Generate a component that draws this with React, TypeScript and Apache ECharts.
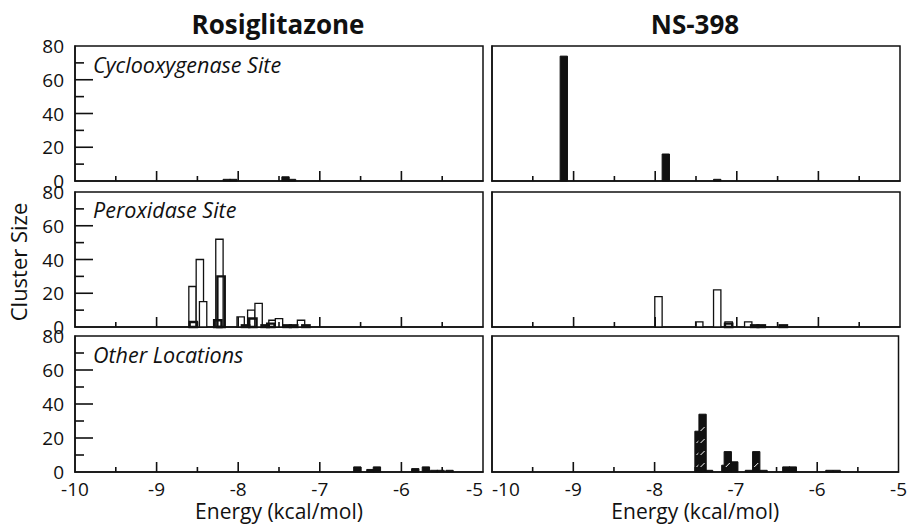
import React, { useEffect, useRef } from "react";
import * as echarts from "echarts";

// ---- data (energy kcal/mol, cluster size) ----
const xTicks = [-10, -9, -8, -7, -6, -5];
const xMinorTicks = [-9.5, -8.5, -7.5, -6.5, -5.5];
const yTicks = [0, 20, 40, 60, 80];
const yMinorTicks = [10, 30, 50, 70];
const drugs = ["Rosiglitazone", "NS-398"];
const sites = ["Cyclooxygenase Site", "Peroxidase Site", "Other Locations"];

const rosiCoxBlack = [[-8.14, 1], [-8.06, 1], [-7.42, 2.5], [-7.34, 1]];
const nsCoxBlack = [[-9.12, 74], [-7.87, 16], [-7.24, 1]];

const rosiPerWhite = [
  [-8.56, 24], [-8.47, 40], [-8.43, 15], [-8.23, 52], [-7.97, 6],
  [-7.84, 10], [-7.75, 14], [-7.58, 4], [-7.5, 5], [-7.23, 4],
];
const rosiPerBold = [
  [-8.55, 3], [-8.25, 4], [-8.21, 30], [-7.91, 1], [-7.82, 5],
  [-7.67, 1], [-7.6, 2], [-7.4, 1], [-7.32, 1], [-7.17, 1],
];
const nsPerWhite = [[-7.96, 18], [-7.46, 3], [-7.24, 22], [-7.1, 3], [-6.86, 3]];
const nsPerBold = [[-7.1, 2], [-6.78, 1], [-6.7, 1], [-6.43, 1]];

const rosiOtherHatched = [
  [-6.54, 3], [-6.38, 1.5], [-6.3, 3], [-5.83, 2], [-5.7, 3],
  [-5.6, 1], [-5.52, 1], [-5.41, 1],
];
const nsOtherHatched = [
  [-7.46, 24], [-7.41, 34], [-7.33, 1], [-7.13, 4], [-7.1, 12], [-7.02, 6],
  [-6.84, 1], [-6.75, 12], [-6.66, 1], [-6.38, 3], [-6.3, 3], [-5.85, 1], [-5.76, 1],
];

const BIN = 0.09;
const FONT = "'Open Sans', 'Noto Sans', sans-serif";
const INK = "#111";

type Kind = "white" | "black" | "bold" | "hatch";

function makeRender(kind: Kind) {
  return (params: any, api: any) => {
    const x = api.value(0);
    const h = api.value(1);
    const p0 = api.coord([x - BIN / 2, 0]);
    const p1 = api.coord([x + BIN / 2, h]);
    const rx = p0[0];
    const ry = p1[1];
    const rw = p1[0] - p0[0];
    const rh = p0[1] - p1[1];
    let style: any;
    if (kind === "white") style = { fill: "#fff", stroke: INK, lineWidth: 1.3 };
    else if (kind === "bold") style = { fill: "rgba(255,255,255,0)", stroke: INK, lineWidth: 2.4 };
    else style = { fill: INK, stroke: INK, lineWidth: 1 };
    const children: any[] = [
      { type: "rect", shape: { x: rx, y: ry, width: rw, height: rh }, style },
    ];
    if (kind === "hatch") {
      const cx = rx + rw / 2;
      for (let yy = p0[1] - 7; yy > ry + 4; yy -= 12) {
        children.push({
          type: "line",
          shape: { x1: cx - 2, y1: yy + 2, x2: cx + 2, y2: yy - 2 },
          style: { stroke: "#fff", lineWidth: 1 },
        });
      }
    }
    return { type: "group", children };
  };
}

// inward tick marks, placed through the axes' scales
function tickRender(dir: "x" | "y", len: number) {
  return (params: any, api: any) => {
    const p = api.coord([api.value(0), api.value(1)]);
    const w = 1.6;
    const shape =
      dir === "x"
        ? { x: p[0] - w / 2, y: p[1] - len, width: w, height: len }
        : { x: p[0], y: p[1] - w / 2, width: len, height: w };
    return { type: "rect", shape, style: { fill: INK }, z2: 50 };
  };
}

const GRID_LEFT = [75, 492];
const GRID_W = 408;
const GRID_TOP = [46, 192, 336];
const GRID_H = [135, 135, 136];

export default function App() {
  const ref = useRef<HTMLDivElement>(null);
  useEffect(() => {
    if (!ref.current) return;
    const chart = echarts.init(ref.current, null, { renderer: "svg" });
    const grids: any[] = [];
    const xAxes: any[] = [];
    const yAxes: any[] = [];
    const series: any[] = [];
    const lineStyle = { color: INK, width: 1.5 };
    const xMin = xTicks[0];
    const yMin = yTicks[0];
    for (let r = 0; r < 3; r++) {
      for (let c = 0; c < 2; c++) {
        const idx = r * 2 + c;
        grids.push({
          left: GRID_LEFT[c],
          top: GRID_TOP[r],
          width: GRID_W,
          height: GRID_H[r],
          show: true,
          borderColor: INK,
          borderWidth: 1.5,
        });
        xAxes.push({
          type: "value",
          gridIndex: idx,
          min: xTicks[0],
          max: xTicks[xTicks.length - 1],
          interval: 1,
          axisLine: { show: true, onZero: false, lineStyle },
          axisTick: { show: false },
          splitLine: { show: false },
          axisLabel: {
            show: r === 2,
            fontSize: 19,
            color: INK,
            fontFamily: FONT,
            margin: 7,
            alignMinLabel: c === 1 ? "left" : "center",
            alignMaxLabel: c === 0 ? "right" : "center",
          },
          name: r === 2 ? "Energy (kcal/mol)" : "",
          nameLocation: "middle",
          nameGap: 28,
          nameTextStyle: { fontSize: 21, color: INK, fontFamily: FONT },
        });
        yAxes.push({
          type: "value",
          gridIndex: idx,
          min: yTicks[0],
          max: yTicks[yTicks.length - 1],
          interval: 20,
          axisLine: { show: true, onZero: false, lineStyle },
          axisTick: { show: false },
          splitLine: { show: false },
          axisLabel: {
            show: c === 0,
            fontSize: 19,
            color: INK,
            fontFamily: FONT,
            margin: 11,
          },
        });
        const axisRef = {
          type: "custom",
          xAxisIndex: idx,
          yAxisIndex: idx,
          silent: true,
          clip: false,
          z: 5,
        };
        series.push({
          ...axisRef,
          data: xTicks.slice(1, -1).map((v) => [v, yMin]),
          renderItem: tickRender("x", 10),
        });
        series.push({
          ...axisRef,
          data: xMinorTicks.map((v) => [v, yMin]),
          renderItem: tickRender("x", 5),
        });
        if (c === 0) {
          series.push({
            ...axisRef,
            data: yTicks.slice(1, -1).map((v) => [xMin, v]),
            renderItem: tickRender("y", 18),
          });
          series.push({
            ...axisRef,
            data: yMinorTicks.map((v) => [xMin, v]),
            renderItem: tickRender("y", 9),
          });
        }
      }
    }

    const seriesDefs: [number, Kind, number[][]][] = [
      [0, "black", rosiCoxBlack],
      [1, "black", nsCoxBlack],
      [2, "white", rosiPerWhite],
      [2, "bold", rosiPerBold],
      [3, "white", nsPerWhite],
      [3, "bold", nsPerBold],
      [4, "hatch", rosiOtherHatched],
      [5, "hatch", nsOtherHatched],
    ];
    seriesDefs.forEach(([idx, kind, data]) =>
      series.push({
        type: "custom",
        xAxisIndex: idx,
        yAxisIndex: idx,
        data,
        renderItem: makeRender(kind),
        silent: true,
      })
    );

    const titleStyle = {
      fontSize: 26,
      fontWeight: "bold",
      fontFamily: FONT,
      fill: INK,
      textAlign: "center",
      textVerticalAlign: "middle",
    };
    const graphic: any[] = [
      { type: "text", x: 278, y: 24, style: { ...titleStyle, text: drugs[0] } },
      { type: "text", x: 695, y: 24, style: { ...titleStyle, text: drugs[1] } },
      {
        type: "text",
        x: 18,
        y: 262,
        rotation: Math.PI / 2,
        style: {
          text: "Cluster Size",
          fontSize: 22,
          fontFamily: FONT,
          fill: INK,
          textAlign: "center",
          textVerticalAlign: "middle",
        },
      },
      ...sites.map((s, i) => ({
        type: "text",
        x: 93,
        y: [64, 209, 354][i],
        style: {
          text: s,
          fontSize: 21.5,
          fontStyle: "italic",
          fontFamily: FONT,
          fill: INK,
          textAlign: "left",
          textVerticalAlign: "middle",
        },
      })),
    ];

    chart.setOption({
      animation: false,
      backgroundColor: "#fff",
      grid: grids,
      xAxis: xAxes,
      yAxis: yAxes,
      series,
      graphic,
    });
    return () => chart.dispose();
  }, []);
  return (
    <div
      ref={ref}
      style={{ position: "fixed", left: 0, top: 0, width: 910, height: 524 }}
    />
  );
}
